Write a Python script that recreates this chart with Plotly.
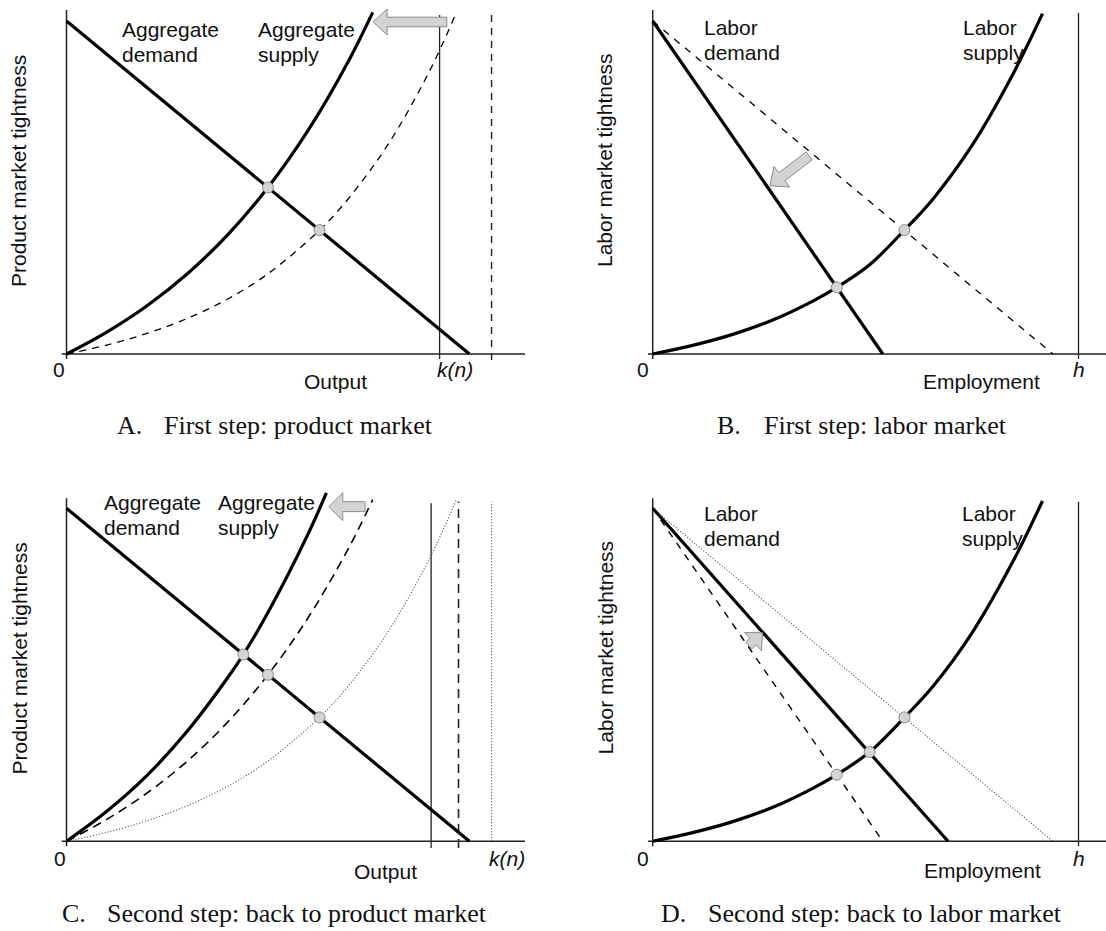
import math
import plotly.graph_objects as go

W, H = 1106, 931

# ---------------- values ----------------
# Product market (panels A and C): tightness against output
ad_x = [0, 10]
ad_y = [10, 0]
as_orig_x = [0, 1, 2, 3, 4, 5, 6.28, 7, 8, 9, 9.675]
as_orig_y = [0, 0.27, 0.62, 1.07, 1.65, 2.41, 3.72, 4.67, 6.33, 8.47, 10.25]
as_step1_x = [0, 1, 2, 3, 4, 5, 6, 7, 7.6]
as_step1_y = [0, 0.66, 1.45, 2.41, 3.58, 5.0, 6.72, 8.80, 10.26]
as_step2_x = [0, 1, 2, 3, 4, 4.39, 5, 6, 6.45]
as_step2_y = [0, 0.9, 1.98, 3.31, 4.91, 5.61, 6.87, 9.24, 10.46]
capacity_A = [9.26, 10.55]          # k(n) new (solid), old (dashed)
capacity_C = [9.05, 9.73, 10.55]    # solid, dashed, dotted
eq_A_x = [5.0, 6.28]
eq_A_y = [5.0, 3.72]
eq_C_x = [4.39, 5.0, 6.28]
eq_C_y = [5.61, 5.0, 3.72]

# Labor market (panels B and D): tightness against employment
ld_orig_x = [0, 10]
ld_orig_y = [10, 0]
ld_step1_x = [0, 5.75]
ld_step1_y = [10, 0]
ld_step2_x = [0, 7.38]
ld_step2_y = [10, 0]
ls_x = [0, 1, 2, 3, 4, 4.6, 5.42, 6.29, 7, 8, 9, 9.74]
ls_y = [0, 0.26, 0.59, 1.02, 1.59, 2.0, 2.68, 3.72, 4.65, 6.3, 8.4, 10.22]
h_value = 10.64
eq_B_x = [4.6, 6.29]
eq_B_y = [2.0, 3.72]
eq_D_x = [4.6, 5.42, 6.29]
eq_D_y = [2.0, 2.68, 3.72]

# ---------------- panel geometry (pixels) ----------------
panels = {
    "A": dict(ax="", x0=66.5, ux=40.29, y0=354.0, uy=33.3, box=(0, 553, 0, 460)),
    "B": dict(ax="2", x0=652.7, ux=40.02, y0=354.0, uy=33.3, box=(553, 1106, 0, 460)),
    "C": dict(ax="3", x0=66.5, ux=40.29, y0=841.3, uy=33.3, box=(0, 553, 460, 931)),
    "D": dict(ax="4", x0=652.7, ux=40.02, y0=841.3, uy=33.3, box=(553, 1106, 460, 931)),
}

SANS = "Liberation Sans, Arial, Helvetica, sans-serif"
SERIF = "Liberation Serif, Times New Roman, serif"
INK = "#111111"

fig = go.Figure()
shapes = []
annotations = []


def refs(key):
    a = panels[key]["ax"]
    return "x" + a, "y" + a


def px_x(key, v):
    p = panels[key]
    return p["x0"] + p["ux"] * v


def curve(key, xs, ys, width=3.2, dash="solid", color="#000000"):
    xr, yr = refs(key)
    fig.add_trace(go.Scatter(
        x=xs, y=ys, mode="lines", xaxis=xr, yaxis=yr, hoverinfo="skip",
        line=dict(color=color, width=width, dash=dash, shape="spline", smoothing=1.0),
    ))


def dots(key, xs, ys):
    xr, yr = refs(key)
    fig.add_trace(go.Scatter(
        x=xs, y=ys, mode="markers", xaxis=xr, yaxis=yr, hoverinfo="skip",
        marker=dict(size=11, color="#d4d4d4", line=dict(color="#8a8a8a", width=1)),
    ))


def seg(key, x0, y0, x1, y1, width=1.4, dash="solid", color="#222222", layer="below"):
    xr, yr = refs(key)
    shapes.append(dict(type="line", xref=xr, yref=yr, x0=x0, y0=y0, x1=x1, y1=y1,
                       layer=layer, line=dict(color=color, width=width, dash=dash)))


def block_arrow(key, tail, tip, head_len, head_half, shaft_half):
    """Grey block arrow; lengths in pixels, end points in data units."""
    p = panels[key]
    ux, uy = p["ux"], p["uy"]
    tx, ty = tail[0] * ux, tail[1] * uy
    hx, hy = tip[0] * ux, tip[1] * uy
    L = math.hypot(hx - tx, hy - ty)
    ex, ey = (hx - tx) / L, (hy - ty) / L
    nx, ny = -ey, ex
    bx, by = hx - ex * head_len, hy - ey * head_len
    pts = [
        (tx + nx * shaft_half, ty + ny * shaft_half),
        (bx + nx * shaft_half, by + ny * shaft_half),
        (bx + nx * head_half, by + ny * head_half),
        (hx, hy),
        (bx - nx * head_half, by - ny * head_half),
        (bx - nx * shaft_half, by - ny * shaft_half),
        (tx - nx * shaft_half, ty - ny * shaft_half),
    ]
    d = "M " + " L ".join(f"{x / ux:.4f},{y / uy:.4f}" for x, y in pts) + " Z"
    xr, yr = refs(key)
    shapes.append(dict(type="path", xref=xr, yref=yr, path=d, layer="above",
                       fillcolor="#d3d3d3", line=dict(color="#8c8c8c", width=1)))


def text(t, xpx, ypx, size=21, xanchor="center", family=SANS, angle=0, align="left"):
    annotations.append(dict(
        x=xpx / W, y=1 - ypx / H, xref="paper", yref="paper", text=t,
        showarrow=False, xanchor=xanchor, yanchor="middle", align=align,
        textangle=angle, font=dict(family=family, size=size, color=INK),
    ))


def two_lines(first, second, xpx, ypx, gap=25):
    """Left-aligned two-line label; ypx is the centre of the first line."""
    text(first, xpx, ypx, xanchor="left")
    text(second, xpx, ypx + gap, xanchor="left")


def axes(key, x_end, y_top):
    seg(key, -0.12, 0, x_end, 0, width=1.5)
    seg(key, 0, -0.15, 0, y_top, width=1.5)


# ---------------- A. First step: product market ----------------
axes("A", 11.38, 10.33)
seg("A", capacity_A[0], -0.15, capacity_A[0], 10.18, width=1.3)
seg("A", capacity_A[1], -0.18, capacity_A[1], 10.18, width=1.4, dash="7px,6px")
curve("A", as_orig_x, as_orig_y, width=1.3, dash="7px,6px")
curve("A", ad_x, ad_y)
curve("A", as_step1_x, as_step1_y)
dots("A", eq_A_x, eq_A_y)
block_arrow("A", (9.44, 9.97), (7.61, 9.97), 14, 13, 4.8)

# ---------------- B. First step: labor market ----------------
axes("B", 11.4, 10.33)
seg("B", h_value, -0.15, h_value, 10.24, width=1.3)
curve("B", ld_orig_x, ld_orig_y, width=1.3, dash="7px,7px")
curve("B", ld_step1_x, ld_step1_y)
curve("B", ls_x, ls_y)
dots("B", eq_B_x, eq_B_y)
block_arrow("B", (3.91, 5.95), (2.93, 5.05), 15, 13, 5)

# ---------------- C. Second step: back to product market ----------------
axes("C", 11.38, 10.3)
seg("C", capacity_C[0], -0.2, capacity_C[0], 10.15, width=1.3)
seg("C", capacity_C[1], -0.2, capacity_C[1], 10.2, width=1.6, dash="9px,6px")
seg("C", capacity_C[2], 0, capacity_C[2], 10.2, width=1.1, dash="1px,2px", color="#444444")
curve("C", as_orig_x, as_orig_y, width=1.1, dash="1px,2px", color="#444444")
curve("C", as_step1_x, as_step1_y, width=1.6, dash="9px,6px")
curve("C", ad_x, ad_y)
curve("C", as_step2_x, as_step2_y)
dots("C", eq_C_x, eq_C_y)
block_arrow("C", (7.41, 10.05), (6.51, 10.05), 14, 14, 5)

# ---------------- D. Second step: back to labor market ----------------
axes("D", 11.4, 10.3)
seg("D", h_value, -0.15, h_value, 10.2, width=1.3)
curve("D", ld_orig_x, ld_orig_y, width=1.1, dash="1px,2px", color="#444444")
curve("D", ld_step1_x, ld_step1_y, width=1.4, dash="7px,7px")
curve("D", ld_step2_x, ld_step2_y)
curve("D", ls_x, ls_y)
dots("D", eq_D_x, eq_D_y)
block_arrow("D", (2.40, 5.88), (2.746, 6.26), 13, 12.5, 4.5)

# ---------------- text ----------------
# curve labels
two_lines("Aggregate", "demand", 120, 29.2)
two_lines("Aggregate", "supply", 256, 29.2)
two_lines("Labor", "demand", 701.7, 27.3)
two_lines("Labor", "supply", 961, 27.3)
two_lines("Aggregate", "demand", 101.6, 502.5)
two_lines("Aggregate", "supply", 216.3, 502.5)
two_lines("Labor", "demand", 701.5, 513.3)
two_lines("Labor", "supply", 960, 513.3)

# axis titles
text("Product market tightness", 19, 171, angle=-90)
text("Labor market tightness", 605, 160, angle=-90)
text("Product market tightness", 19, 658.5, angle=-90)
text("Labor market tightness", 604.5, 648, angle=-90)

# axis marks
text("0", 58.5, 370)
text("0", 643, 370)
text("0", 60, 858)
text("0", 643, 858)
text("<i>k(n)</i>", px_x("A", capacity_A[0]) - 5, 370, xanchor="left")
text("<i>k(n)</i>", px_x("C", capacity_C[2]) - 5, 858, xanchor="left")
text("<i>h</i>", px_x("B", h_value), 370)
text("<i>h</i>", px_x("D", h_value), 858)
text("Output", 335, 382)
text("Output", 385.7, 871.5)
text("Employment", 981.5, 382)
text("Employment", 982, 870)

# panel captions
captions = [
    ("A.", "First step: product market", 115, 162, 425.5),
    ("B.", "First step: labor market", 715, 761.7, 425.5),
    ("C.", "Second step: back to product market", 60.3, 105, 913),
    ("D.", "Second step: back to labor market", 658.6, 705.7, 913),
]
for letter, cap, lx, tx, cy in captions:
    text(letter, lx, cy, size=26, xanchor="left", family=SERIF)
    text(cap, tx, cy, size=26, xanchor="left", family=SERIF)

# ---------------- layout ----------------
layout = dict(
    width=W, height=H, margin=dict(l=0, r=0, t=0, b=0),
    paper_bgcolor="white", plot_bgcolor="white", showlegend=False,
    shapes=shapes, annotations=annotations,
)
for key, p in panels.items():
    a = p["ax"]
    l, r, t, b = p["box"]
    layout["xaxis" + a] = dict(
        domain=[l / W, r / W],
        range=[(l - p["x0"]) / p["ux"], (r - p["x0"]) / p["ux"]],
        visible=False, showgrid=False, zeroline=False, fixedrange=True,
        anchor="y" + a,
    )
    layout["yaxis" + a] = dict(
        domain=[1 - b / H, 1 - t / H],
        range=[(p["y0"] - b) / p["uy"], (p["y0"] - t) / p["uy"]],
        visible=False, showgrid=False, zeroline=False, fixedrange=True,
        anchor="x" + a,
    )
fig.update_layout(**layout)

fig.write_html("out.html")
